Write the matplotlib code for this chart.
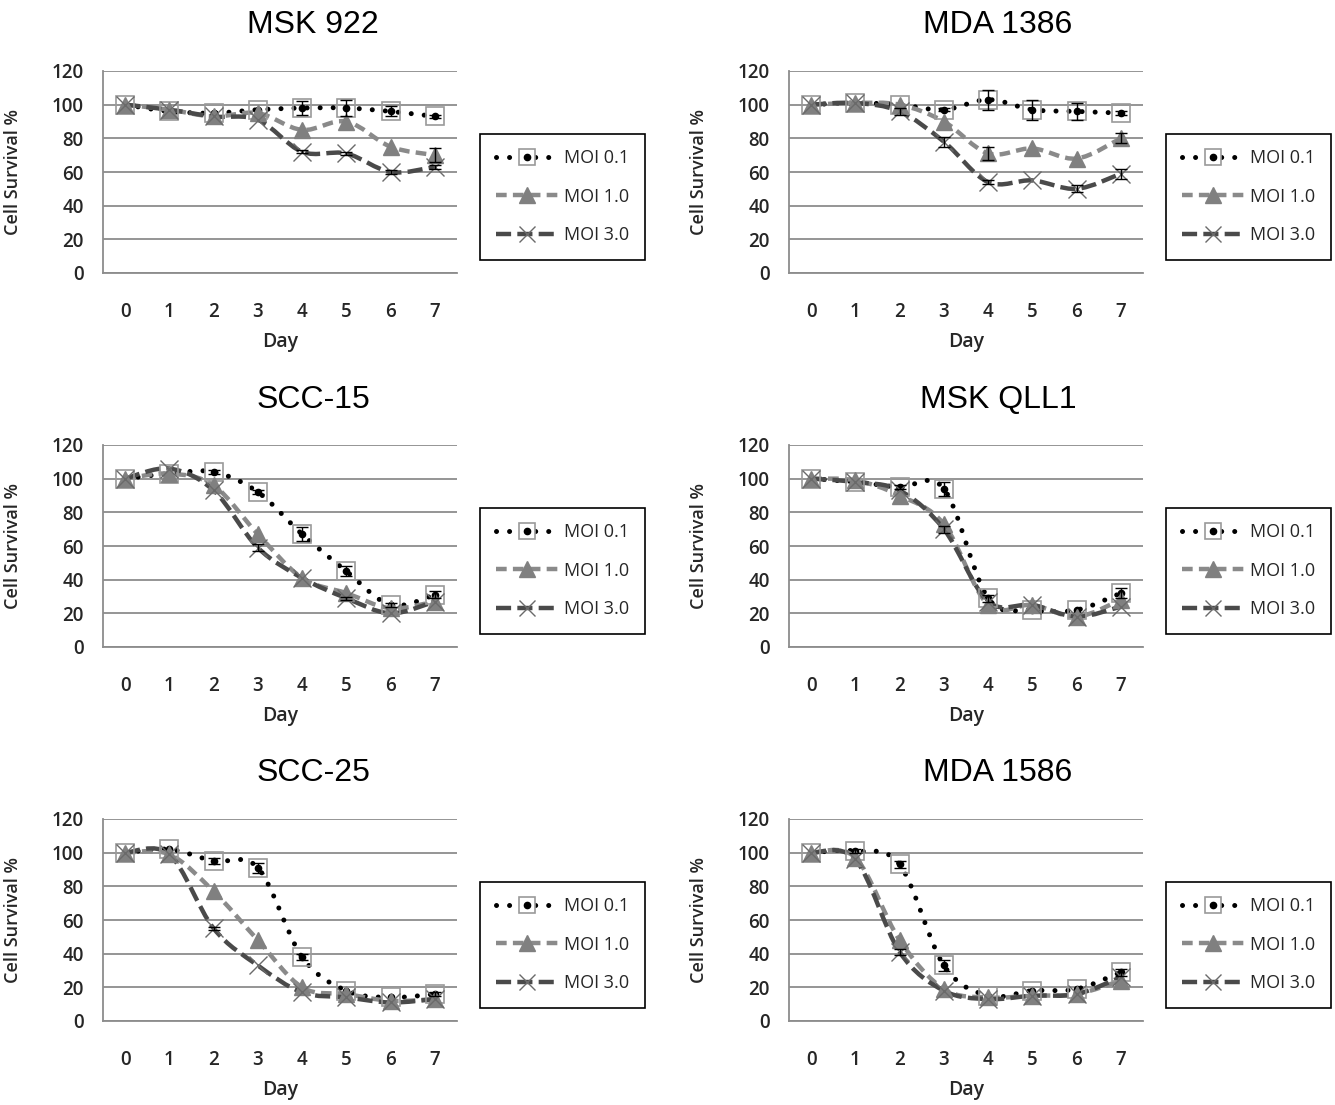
import matplotlib
matplotlib.use('Agg')
import numpy as np
import matplotlib.pyplot as plt
from matplotlib.path import Path
from matplotlib.patches import PathPatch
from matplotlib.lines import Line2D

days = [0, 1, 2, 3, 4, 5, 6, 7]
series_names = ['MOI 0.1', 'MOI 1.0', 'MOI 3.0']

# panel titles, in reading order
titles = ['MSK 922', 'MDA 1386', 'SCC-15', 'MSK QLL1', 'SCC-25', 'MDA 1586']

# cell survival % per panel: [MOI 0.1, MOI 1.0, MOI 3.0]
msk922 = [[100, 96, 95, 97, 98, 98, 96, 93],
          [100, 97, 93, 95, 85, 90, 75, 70],
          [100, 97, 93, 91, 72, 71, 60, 63]]
mda1386 = [[100, 101, 100, 97, 103, 97, 96, 95],
           [100, 101, 100, 90, 71, 74, 68, 80],
           [100, 101, 96, 78, 54, 55, 50, 59]]
scc15 = [[100, 103, 104, 92, 67, 45, 25, 31],
         [100, 103, 96, 67, 41, 32, 23, 27],
         [100, 106, 93, 59, 41, 29, 20, 27]]
mskqll1 = [[100, 98, 95, 94, 29, 22, 22, 32],
           [100, 99, 90, 73, 25, 25, 18, 28],
           [100, 98, 93, 70, 27, 25, 18, 24]]
scc25 = [[100, 102, 95, 91, 38, 18, 14, 16],
         [100, 99, 77, 48, 20, 16, 12, 13],
         [100, 99, 55, 33, 17, 14, 11, 13]]
mda1586 = [[100, 101, 93, 33, 15, 18, 19, 29],
           [100, 97, 48, 19, 14, 15, 16, 24],
           [100, 96, 41, 18, 13, 15, 16, 26]]

# error bars (half-length) per panel and series, 0 = not visible
msk922_err = [[0, 0, 0, 0, 4, 5, 3, 1], [0, 0, 0, 0, 0, 0, 0, 4], [0, 0, 0, 0, 1, 1, 1, 1]]
mda1386_err = [[0, 0, 0, 1, 6, 6, 5, 1], [0, 0, 0, 0, 4, 0, 0, 3], [0, 0, 2, 3, 1, 0, 2, 3]]
scc15_err = [[0, 0, 1, 1, 4, 3, 1, 2], [0, 0, 0, 0, 0, 0, 0, 0], [0, 0, 0, 2, 0, 1, 0, 0]]
mskqll1_err = [[0, 0, 1, 4, 2, 0, 0, 3], [0, 0, 0, 0, 0, 0, 0, 0], [0, 0, 0, 2, 0, 0, 0, 0]]
scc25_err = [[0, 0, 2, 3, 2, 0, 0, 1], [0, 0, 0, 0, 0, 0, 0, 0], [0, 0, 1, 0, 0, 0, 0, 0]]
mda1586_err = [[0, 1, 2, 3, 0, 0, 0, 2], [0, 0, 0, 0, 0, 0, 0, 0], [0, 0, 2, 0, 0, 0, 0, 0]]

panel_data = [msk922, mda1386, scc15, mskqll1, scc25, mda1586]
panel_err = [msk922_err, mda1386_err, scc15_err, mskqll1_err, scc25_err, mda1586_err]

plt.rcParams['font.family'] = ['Open Sans', 'DejaVu Sans']

W, H = 1335, 1105
fig = plt.figure(figsize=(W / 100, H / 100), dpi=100)

# pixel layout of the plot areas: (left, top)
col_left = [103, 789]
row_top = [71, 445, 819]
pw, ph = 354, 202
title_x = [313, 998]
title_y = [25, 400, 773]

text_color = '#262626'

line_styles = [
    dict(color='black', lw=3.6, ls=(0, (0.01, 2.6)), capstyle='round'),
    dict(color='#8a8a8a', lw=3.2, ls=(0, (2.4, 1.4)), capstyle='butt'),
    dict(color='#4a4a4a', lw=3.2, ls=(0, (3.4, 1.4)), capstyle='butt'),
]


def smooth_path(x, y):
    # Excel-style smoothed line: cubic Bezier through every data point
    pts = np.column_stack([x, y]).astype(float)
    n = len(pts)
    verts = [pts[0]]
    codes = [Path.MOVETO]
    for i in range(n - 1):
        p0 = pts[i - 1] if i > 0 else pts[i]
        p1 = pts[i]
        p2 = pts[i + 1]
        p3 = pts[i + 2] if i + 2 < n else pts[i + 1]
        verts += [p1 + (p2 - p0) / 6, p2 - (p3 - p1) / 6, p2]
        codes += [Path.CURVE4] * 3
    return Path(verts, codes)


def legend_handles():
    h01 = (Line2D([], [], color='black', lw=3.6, ls=(0, (0.01, 2.6)), dash_capstyle='round',
                  marker='s', ms=12, mfc='white', mec='#9a9a9a', mew=1.2),
           Line2D([], [], ls='none', marker='o', ms=4.5, color='black'))
    h10 = Line2D([], [], color='#8a8a8a', lw=3.2, ls=(0, (2.4, 1.4)),
                 marker='^', ms=11, mfc='#808080', mec='#808080')
    h30 = Line2D([], [], color='#4a4a4a', lw=3.2, ls=(0, (3.4, 1.4)),
                 marker='x', ms=12, mec='#6a6a6a', mew=1.0)
    return [h01, h10, h30]


for k in range(6):
    r, c = k // 2, k % 2
    left = col_left[c]
    top = row_top[r]
    ax = fig.add_axes([left / W, 1 - (top + ph) / H, pw / W, ph / H])
    ax.set_xlim(-0.5, 7.5)
    ax.set_ylim(0, 120)
    ax.set_yticks(range(0, 121, 20))
    ax.set_xticks(days)
    ax.grid(axis='y', color='#8c8c8c', lw=1.3)
    ax.set_axisbelow(True)
    for s in ['top', 'right']:
        ax.spines[s].set_visible(False)
    for s in ['left', 'bottom']:
        ax.spines[s].set_color('#8c8c8c')
        ax.spines[s].set_linewidth(1.3)
    ax.tick_params(length=0, labelsize=13.5, labelcolor=text_color)
    for t in ax.get_xticklabels() + ax.get_yticklabels():
        t.set_fontweight('semibold')
    ax.tick_params(axis='y', pad=14)
    ax.tick_params(axis='x', pad=21)
    ax.set_xlabel('Day', fontsize=14, fontweight='semibold', labelpad=7, color=text_color)
    ax.set_ylabel('Cell Survival %', fontsize=13, fontweight='semibold', color=text_color)
    ax.yaxis.set_label_coords(-0.23, 0.5)

    data = panel_data[k]
    errs = panel_err[k]
    for j in range(3):
        st = line_styles[j]
        patch = PathPatch(smooth_path(days, data[j]), fill=False, edgecolor=st['color'],
                          lw=st['lw'], ls=st['ls'], capstyle=st['capstyle'], zorder=2 + j)
        ax.add_patch(patch)
    # markers
    ax.plot(days, data[0], ls='none', marker='s', ms=12.5, mfc='none', mec='#9a9a9a', mew=1.2, zorder=5)
    ax.plot(days, data[0], ls='none', marker='o', ms=4.5, color='black', zorder=5)
    ax.plot(days, data[1], ls='none', marker='^', ms=11, mfc='#808080', mec='#808080', zorder=6)
    ax.plot(days, data[2], ls='none', marker='x', ms=12.5, mec='#6a6a6a', mew=1.0, zorder=7)
    for j in range(3):
        e = np.array(errs[j])
        keep = e > 0
        if keep.any():
            ax.errorbar(np.array(days)[keep], np.array(data[j])[keep], yerr=e[keep], fmt='none',
                        ecolor='black', elinewidth=1.0, capsize=4, capthick=1.0, zorder=8)

    leg = ax.legend(legend_handles(), series_names, loc='upper left',
                    bbox_to_anchor=(1.066, 0.69), borderaxespad=0, fontsize=13,
                    handlelength=3.5, labelspacing=1.15, borderpad=0.85,
                    handletextpad=0.3, fancybox=False, framealpha=1)
    leg.get_frame().set_edgecolor('black')
    leg.get_frame().set_linewidth(1.2)
    for t in leg.get_texts():
        t.set_color(text_color)

    fig.text(title_x[c] / W, 1 - title_y[r] / H, titles[k], ha='center', va='center',
             fontsize=23, family='Liberation Sans')

fig.savefig('out.png', dpi=100)
